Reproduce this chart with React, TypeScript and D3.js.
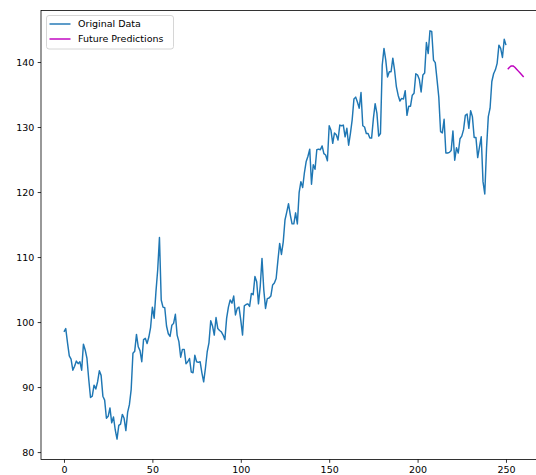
import React, { useEffect, useRef } from 'react';
import * as d3 from 'd3';

// observed series, one value per step (index = step number)
const originalData = [
  98.5, 99.0, 96.8, 94.8, 94.3, 92.6, 93.2, 94.0, 93.6, 93.9,
  92.6, 96.6, 95.7, 94.4, 91.2, 88.4, 88.6, 90.3, 89.7, 90.8,
  92.5, 91.8, 88.6, 88.0, 85.2, 85.5, 86.8, 84.5, 85.4, 83.4,
  82.0, 84.1, 84.3, 85.8, 85.2, 83.3, 86.1, 87.3, 89.6, 95.2,
  95.5, 98.1, 96.2, 95.6, 93.9, 97.3, 97.5, 96.7, 97.7, 99.2,
  102.3, 100.6, 104.6, 108.0, 113.0, 103.4, 102.3, 102.2, 99.4, 98.2,
  97.8, 99.5, 99.8, 101.2, 98.0, 97.0, 94.6, 95.8, 95.8, 93.6,
  93.9, 94.4, 92.3, 92.2, 94.9, 93.9, 93.8, 93.9, 92.2, 90.8,
  92.9, 95.4, 96.8, 100.2, 99.4, 98.0, 100.7, 99.0, 98.7, 98.5,
  98.0, 97.3, 100.6, 102.3, 103.4, 102.9, 104.0, 101.1, 102.1, 102.3,
  100.3, 98.0, 102.5, 102.7, 102.8, 102.4, 104.4, 104.2, 107.0, 106.2,
  102.8, 105.5, 109.8, 105.0, 102.1, 103.6, 103.7, 104.0, 105.7, 106.0,
  106.7, 109.5, 112.1, 110.4, 112.3, 115.7, 116.9, 118.2, 116.5, 115.1,
  115.1, 116.8, 115.1, 119.9, 121.6, 120.7, 123.0, 124.7, 125.5, 126.6,
  121.2, 124.2, 123.5, 126.5, 126.6, 126.5, 127.1, 125.9, 125.7, 124.8,
  130.2, 129.5, 127.5, 129.1, 128.8, 128.0, 130.3, 130.2, 130.3, 128.5,
  129.8, 127.2, 129.0, 131.1, 134.3, 134.6, 133.8, 132.9, 135.3, 130.2,
  130.0, 129.0, 129.0, 128.3, 128.3, 131.3, 133.6, 132.1, 128.6, 129.0,
  139.5, 142.1, 140.3, 137.7, 138.5, 138.5, 140.6, 138.7, 136.2, 134.9,
  134.0, 134.4, 134.3, 135.6, 131.8, 133.2, 133.2, 134.9, 135.2, 138.2,
  138.0, 137.3, 135.4, 138.0, 138.3, 143.0, 141.3, 144.8, 144.7, 140.3,
  139.9, 137.3, 134.6, 129.3, 129.1, 131.2, 126.0, 126.0, 126.1, 126.4,
  129.4, 124.9, 126.8, 126.0, 128.2, 128.6, 129.6, 131.8, 132.0, 129.8,
  132.5, 131.6, 128.4, 128.4, 125.3, 126.9, 128.5, 121.6, 119.7, 126.7,
  131.6, 132.9, 137.0, 138.2, 138.8, 139.8, 142.6, 142.1, 140.7, 143.5,
  142.6,
];

// forecast continues right after the observed data
const predictionStart = 251;
const futurePredictions = [138.9, 139.2, 139.4, 139.4, 139.2, 138.9, 138.6, 138.3, 138.0, 137.7];

const xTicks = [0, 50, 100, 150, 200, 250];
const yTicks = [80, 90, 100, 110, 120, 130, 140];
const seriesLabels = ['Original Data', 'Future Predictions'];
const seriesColors = ['#1f77b4', '#bf00bf'];

export default function App() {
  const svgRef = useRef<SVGSVGElement>(null);

  useEffect(() => {
    const svg = d3.select(svgRef.current);
    svg.selectAll('*').remove();

    const font = 'DejaVu Sans, sans-serif';
    const fontSize = 9.5;

    const orig = originalData.map((v, i) => ({ x: i, y: v }));
    const pred = futurePredictions.map((v, i) => ({ x: predictionStart + i, y: v }));
    const all = orig.concat(pred);

    // matplotlib-like 5% padding
    const [x0, x1] = d3.extent(all, d => d.x) as [number, number];
    const [y0, y1] = d3.extent(all, d => d.y) as [number, number];
    const xPad = (x1 - x0) * 0.05;
    const yPad = (y1 - y0) * 0.05;

    const left = 41;
    const top = 10.4;
    const bottom = 459.5;
    const pxPerUnit = 1.768;
    const right = left + (x1 - x0 + 2 * xPad) * pxPerUnit;

    const x = d3.scaleLinear().domain([x0 - xPad, x1 + xPad]).range([left, right]);
    const y = d3.scaleLinear().domain([y0 - yPad, y1 + yPad]).range([bottom, top]);

    const line = d3.line<{ x: number; y: number }>()
      .x(d => x(d.x))
      .y(d => y(d.y));

    svg.append('path')
      .datum(orig)
      .attr('fill', 'none')
      .attr('stroke', seriesColors[0])
      .attr('stroke-width', 1.45)
      .attr('stroke-linejoin', 'round')
      .attr('d', line);

    svg.append('path')
      .datum(pred)
      .attr('fill', 'none')
      .attr('stroke', seriesColors[1])
      .attr('stroke-width', 1.45)
      .attr('stroke-linejoin', 'round')
      .attr('d', line);

    // spines
    const spine = svg.append('g').attr('stroke', '#000').attr('stroke-width', 0.8).attr('fill', 'none');
    spine.append('rect')
      .attr('x', left)
      .attr('y', top)
      .attr('width', right - left)
      .attr('height', bottom - top);

    // x axis
    const xAxis = svg.append('g')
      .attr('transform', `translate(0,${bottom})`)
      .call(d3.axisBottom(x).tickValues(xTicks).tickSize(3.3).tickPadding(3.3).tickFormat(d3.format('d')));
    xAxis.select('.domain').remove();
    xAxis.selectAll('line').attr('stroke', '#000').attr('stroke-width', 0.8);
    xAxis.selectAll('text').attr('font-family', font).attr('font-size', fontSize).attr('fill', '#000');

    // y axis
    const yAxis = svg.append('g')
      .attr('transform', `translate(${left},0)`)
      .call(d3.axisLeft(y).tickValues(yTicks).tickSize(3.3).tickPadding(3.3).tickFormat(d3.format('d')));
    yAxis.select('.domain').remove();
    yAxis.selectAll('line').attr('stroke', '#000').attr('stroke-width', 0.8);
    yAxis.selectAll('text').attr('font-family', font).attr('font-size', fontSize).attr('fill', '#000');

    // legend
    const legend = svg.append('g');
    legend.append('rect')
      .attr('x', 46.5)
      .attr('y', 15.5)
      .attr('width', 127)
      .attr('height', 33.5)
      .attr('rx', 2.5)
      .attr('fill', '#fff')
      .attr('fill-opacity', 0.8)
      .attr('stroke', '#cccccc')
      .attr('stroke-width', 0.8);

    seriesLabels.forEach((label, i) => {
      const ly = 24 + i * 15;
      legend.append('line')
        .attr('x1', 49.5)
        .attr('x2', 70.5)
        .attr('y1', ly)
        .attr('y2', ly)
        .attr('stroke', seriesColors[i])
        .attr('stroke-width', 1.45);
      legend.append('text')
        .attr('x', 78)
        .attr('y', ly)
        .attr('dy', '0.35em')
        .attr('font-family', font)
        .attr('font-size', fontSize)
        .attr('fill', '#000')
        .text(label);
    });
  }, []);

  return (
    <svg
      ref={svgRef}
      width={536}
      height={475}
      style={{ position: 'absolute', left: 0, top: 0, background: '#fff' }}
    />
  );
}
